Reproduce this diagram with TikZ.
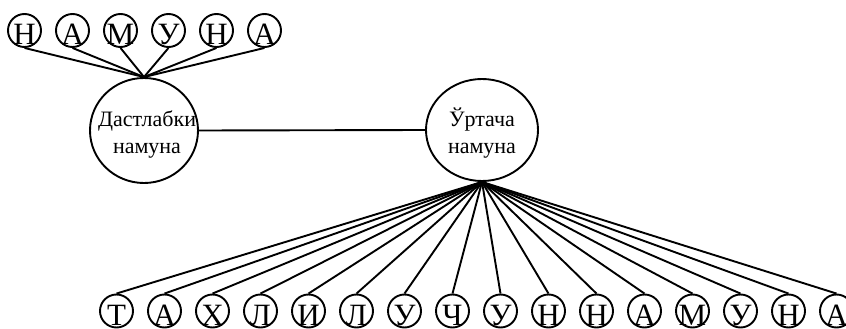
\documentclass[tikz,border=0pt]{standalone}
\usepackage{fontspec}
\setmainfont{Liberation Serif}
\newfontfamily\tnr{Liberation Serif}
\usetikzlibrary{shapes.geometric}
\begin{document}
\begin{tikzpicture}[x=1pt,y=-1pt,line width=1.9pt,
  small/.style={circle,draw,minimum size=33pt,inner sep=0pt},
  letter/.style={font=\tnr\fontsize{31}{31}\selectfont,inner sep=0pt,anchor=base},
  big/.style={ellipse,draw,inner sep=0pt},
  bigtext/.style={font=\tnr\fontsize{22}{26.5}\selectfont,align=center,inner sep=0pt}]
\useasboundingbox (0,0) rectangle (846,329);
% big circles
\node[big,minimum width=108pt,minimum height=105pt] (L) at (144,130.5) {};
\node[big,minimum width=112pt,minimum height=102pt] (R) at (482,130) {};
\node[bigtext] (Lt) at ([xshift=3pt,yshift=-4pt]L.center) {Дастлабки\\намуна};
\node[bigtext] (Rt) at ([yshift=-3pt]R.center) {Ўртача\\намуна};
\draw (L.east) -- (R.west);
% top letters
\foreach \ch [count=\i from 0] in {Н,А,М,У,Н,А}{
  \node[small] (a\i) at (24.5+48*\i,30.5) {};
  \node[letter] (al\i) at ([yshift=-14.5pt]a\i.center) {\ch};
  \draw (a\i.south) -- (L.north);
}
% bottom letters
\foreach \ch [count=\i from 0] in {Т,А,Х,Л,И,Л,У,Ч,У,Н,Н,А,М,У,Н,А}{
  \node[small] (b\i) at (116.5+48*\i,311) {};
  \node[letter] (bl\i) at ([yshift=-14pt]b\i.center) {\ch};
  \draw (b\i.north) -- (R.south);
}
\end{tikzpicture}
\end{document}
